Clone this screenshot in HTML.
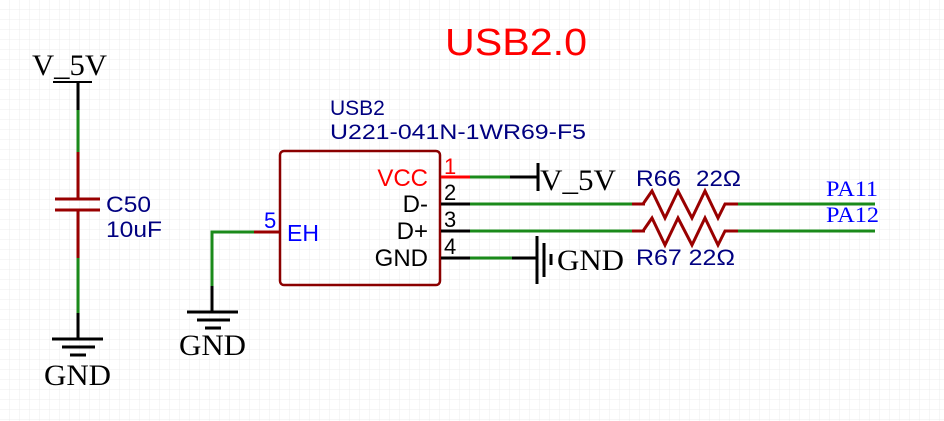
<!DOCTYPE html>
<html><head><meta charset="utf-8"><style>
html,body{margin:0;padding:0;background:#fff;}
svg{display:block;}
.s{font-family:"Liberation Sans",sans-serif;}
.r{font-family:"Liberation Serif",serif;}
</style></head><body>
<svg width="944" height="421" viewBox="0 0 944 421" xmlns="http://www.w3.org/2000/svg">
<defs><pattern id="g" width="10" height="10" patternUnits="userSpaceOnUse"><path d="M10 0V10M0 10H10" fill="none" stroke="#ececec" stroke-width="1"/></pattern></defs>
<rect width="944" height="421" fill="url(#g)"/>
<text x="445" y="55" class="s" font-size="38" fill="#ff0000" textLength="142" lengthAdjust="spacingAndGlyphs">USB2.0</text>

<text x="32" y="75" class="r" font-size="30" fill="#000" textLength="75" lengthAdjust="spacingAndGlyphs">V_5V</text>
<g stroke-width="3" fill="none">
<line x1="53" y1="82" x2="92" y2="82" stroke="#000" stroke-width="2"/>
<line x1="78" y1="82" x2="78" y2="110" stroke="#000"/>
<line x1="78" y1="110" x2="78" y2="152" stroke="#1a8a1a"/>
<line x1="78" y1="152" x2="78" y2="199" stroke="#990000"/>
<line x1="55" y1="199" x2="100" y2="199" stroke="#990000"/>
<line x1="55" y1="210" x2="100" y2="210" stroke="#990000"/>
<line x1="78" y1="210" x2="78" y2="258" stroke="#990000"/>
<line x1="78" y1="258" x2="78" y2="313" stroke="#1a8a1a"/>
<line x1="78" y1="313" x2="78" y2="339" stroke="#000"/>
<line x1="52" y1="339" x2="103" y2="339" stroke="#000"/>
<line x1="62" y1="347" x2="95" y2="347" stroke="#000"/>
<line x1="70" y1="355" x2="86" y2="355" stroke="#000"/>
</g>
<text x="44" y="385" class="r" font-size="30" fill="#000" textLength="67" lengthAdjust="spacingAndGlyphs">GND</text>
<text x="106" y="212" class="s" font-size="22" fill="#000080" textLength="45" lengthAdjust="spacingAndGlyphs">C50</text>
<text x="106" y="237" class="s" font-size="22" fill="#000080" textLength="56" lengthAdjust="spacingAndGlyphs">10uF</text>

<g stroke-width="3" fill="none">
<line x1="254" y1="232" x2="281" y2="232" stroke="#990000"/>
<polyline points="254,232 212,232 212,286" stroke="#1a8a1a"/>
<line x1="212" y1="286" x2="212" y2="312" stroke="#000"/>
<line x1="187" y1="312" x2="238" y2="312" stroke="#000"/>
<line x1="197" y1="320" x2="230" y2="320" stroke="#000"/>
<line x1="205" y1="328" x2="221" y2="328" stroke="#000"/>
</g>
<text x="179" y="355" class="r" font-size="30" fill="#000" textLength="67" lengthAdjust="spacingAndGlyphs">GND</text>
<text x="264" y="228" class="s" font-size="22" fill="#0000ff">5</text>
<text x="287" y="241" class="s" font-size="23" fill="#0000ff">EH</text>

<rect x="280" y="151" width="160" height="134" rx="4" fill="none" stroke="#8b0000" stroke-width="2.5"/>
<text x="330" y="115" class="s" font-size="21" fill="#000080">USB2</text>
<text x="330" y="139" class="s" font-size="21" fill="#000080" textLength="256" lengthAdjust="spacingAndGlyphs">U221-041N-1WR69-F5</text>
<g class="s" font-size="24" text-anchor="end">
<text x="428" y="186" fill="#ff0000">VCC</text>
<text x="428" y="212" fill="#000">D-</text>
<text x="428" y="239" fill="#000">D+</text>
<text x="428" y="266" fill="#000">GND</text>
</g>
<g class="s" font-size="22">
<text x="444" y="174" fill="#ff0000">1</text>
<text x="444" y="200" fill="#000">2</text>
<text x="444" y="227" fill="#000">3</text>
<text x="444" y="254" fill="#000">4</text>
</g>
<g stroke-width="3" fill="none">
<line x1="441" y1="177" x2="470" y2="177" stroke="#ff0000"/>
<line x1="470" y1="177" x2="510" y2="177" stroke="#1a8a1a"/>
<line x1="510" y1="177" x2="538" y2="177" stroke="#000"/>
<line x1="538" y1="163" x2="538" y2="191" stroke="#000"/>
<line x1="441" y1="204" x2="470" y2="204" stroke="#000"/>
<line x1="470" y1="204" x2="643" y2="204" stroke="#1a8a1a"/>
<line x1="441" y1="231" x2="470" y2="231" stroke="#000"/>
<line x1="470" y1="231" x2="643" y2="231" stroke="#1a8a1a"/>
<line x1="441" y1="258" x2="470" y2="258" stroke="#000"/>
<line x1="470" y1="258" x2="512" y2="258" stroke="#1a8a1a"/>
<line x1="512" y1="258" x2="537" y2="258" stroke="#000"/>
<line x1="537" y1="236" x2="537" y2="284" stroke="#000"/>
<line x1="544" y1="243" x2="544" y2="277" stroke="#000"/>
<line x1="551" y1="254" x2="551" y2="265" stroke="#000"/>
<line x1="632" y1="204" x2="645" y2="204" stroke="#990000"/>
<polyline points="643,204 652,191 665,218 678,191 692,218 705,191 718,218 725,204 738,204" stroke="#990000"/>
<line x1="738" y1="204" x2="875" y2="204" stroke="#1a8a1a"/>
<line x1="632" y1="231" x2="645" y2="231" stroke="#990000"/>
<polyline points="643,231 652,218 665,245 678,218 692,245 705,218 718,245 725,231 738,231" stroke="#990000"/>
<line x1="738" y1="231" x2="875" y2="231" stroke="#1a8a1a"/>
</g>
<text x="540" y="190" class="r" font-size="30" fill="#000" textLength="76" lengthAdjust="spacingAndGlyphs">V_5V</text>
<text x="557" y="270" class="r" font-size="30" fill="#000" textLength="67" lengthAdjust="spacingAndGlyphs">GND</text>
<text x="636" y="186" class="s" font-size="22" fill="#000080" textLength="45" lengthAdjust="spacingAndGlyphs">R66</text>
<text x="696" y="186" class="s" font-size="22" fill="#000080" textLength="45" lengthAdjust="spacingAndGlyphs">22Ω</text>
<text x="636" y="265" class="s" font-size="22" fill="#000080" textLength="99" lengthAdjust="spacingAndGlyphs">R67 22Ω</text>
<text x="826" y="196" class="r" font-size="22" fill="#0000ff" textLength="52" lengthAdjust="spacingAndGlyphs">PA11</text>
<text x="826" y="222" class="r" font-size="22" fill="#0000ff" textLength="53" lengthAdjust="spacingAndGlyphs">PA12</text>
</svg>
</body></html>
